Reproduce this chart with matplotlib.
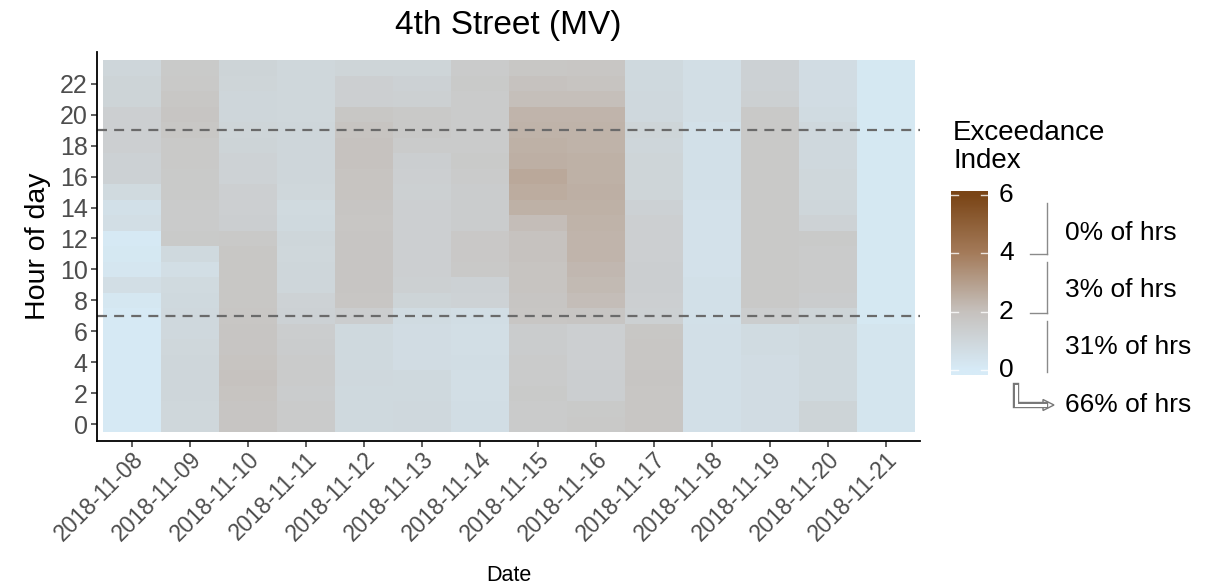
import numpy as np
import matplotlib
matplotlib.use("Agg")
import matplotlib.pyplot as plt
from matplotlib.colors import LinearSegmentedColormap, Normalize
from matplotlib.lines import Line2D
from matplotlib.patches import Polygon

plt.rcParams['font.family'] = ['Liberation Sans', 'DejaVu Sans']

dates = ['2018-11-08', '2018-11-09', '2018-11-10', '2018-11-11', '2018-11-12',
         '2018-11-13', '2018-11-14', '2018-11-15', '2018-11-16', '2018-11-17',
         '2018-11-18', '2018-11-19', '2018-11-20', '2018-11-21']
hours = list(range(24))

# exceedance index, one row per day, hours 0..23
index_by_day = [
    [0.10, 0.10, 0.10, 0.10, 0.10, 0.10, 0.10, 0.10, 0.20, 0.60, 0.25, 0.15,
     0.10, 0.60, 0.50, 0.80, 1.20, 1.20, 1.30, 1.30, 1.30, 1.10, 1.10, 1.00],
    [0.95, 0.95, 1.00, 1.00, 1.00, 0.95, 0.90, 0.90, 0.85, 0.80, 0.60, 0.85,
     1.55, 1.50, 1.50, 1.55, 1.55, 1.60, 1.60, 1.70, 1.80, 1.70, 1.60, 1.55],
    [1.80, 1.80, 1.85, 1.90, 1.85, 1.80, 1.80, 1.75, 1.70, 1.70, 1.70, 1.70,
     1.60, 1.35, 1.30, 1.30, 1.15, 1.15, 1.10, 1.05, 1.00, 1.00, 1.05, 1.10],
    [1.50, 1.50, 1.45, 1.50, 1.50, 1.45, 1.40, 1.20, 1.15, 1.00, 1.00, 0.95,
     1.00, 0.85, 0.80, 0.95, 1.00, 1.00, 1.00, 1.00, 0.95, 0.95, 0.95, 0.95],
    [0.85, 0.85, 0.85, 0.90, 0.85, 0.85, 0.85, 1.40, 1.75, 1.80, 1.80, 1.80,
     1.80, 1.75, 1.80, 1.85, 1.85, 1.90, 1.90, 1.85, 1.70, 1.30, 1.30, 1.05],
    [0.90, 0.90, 0.85, 0.85, 0.70, 0.70, 0.70, 0.75, 1.10, 1.25, 1.30, 1.30,
     1.30, 1.30, 1.30, 1.25, 1.30, 1.35, 1.50, 1.60, 1.60, 1.25, 1.20, 1.05],
    [0.65, 0.65, 0.60, 0.60, 0.65, 0.60, 0.60, 0.65, 1.15, 1.20, 1.60, 1.65,
     1.65, 1.45, 1.45, 1.45, 1.50, 1.55, 1.50, 1.50, 1.50, 1.50, 1.55, 1.50],
    [1.50, 1.50, 1.55, 1.50, 1.50, 1.45, 1.45, 1.75, 1.80, 1.85, 1.85, 1.90,
     1.90, 2.10, 2.45, 2.60, 2.70, 2.50, 2.45, 2.40, 2.35, 2.05, 1.90, 1.70],
    [1.60, 1.55, 1.35, 1.35, 1.30, 1.30, 1.30, 1.80, 2.10, 2.20, 2.25, 2.35,
     2.35, 2.40, 2.45, 2.50, 2.45, 2.45, 2.40, 2.40, 2.35, 2.05, 1.85, 1.75],
    [1.75, 1.75, 1.75, 1.80, 1.75, 1.75, 1.70, 1.25, 1.30, 1.35, 1.35, 1.30,
     1.30, 1.30, 1.20, 1.05, 1.05, 1.05, 1.00, 1.05, 0.90, 0.90, 0.85, 0.85],
    [0.55, 0.55, 0.55, 0.55, 0.55, 0.55, 0.55, 0.50, 0.50, 0.50, 0.45, 0.45,
     0.45, 0.45, 0.45, 0.50, 0.50, 0.50, 0.50, 0.50, 0.60, 0.60, 0.60, 0.60],
    [0.70, 0.70, 0.70, 0.70, 0.70, 0.75, 0.75, 1.40, 1.60, 1.60, 1.60, 1.60,
     1.60, 1.60, 1.60, 1.60, 1.60, 1.60, 1.60, 1.60, 1.60, 1.25, 1.20, 1.20],
    [1.10, 1.10, 0.85, 0.85, 0.85, 0.85, 0.85, 1.10, 1.45, 1.50, 1.50, 1.50,
     1.55, 1.15, 1.00, 0.95, 0.95, 0.90, 0.90, 0.90, 0.75, 0.70, 0.70, 0.70],
    [0.30, 0.30, 0.30, 0.30, 0.30, 0.30, 0.30, 0.15, 0.15, 0.15, 0.15, 0.15,
     0.15, 0.15, 0.15, 0.15, 0.15, 0.15, 0.15, 0.15, 0.15, 0.15, 0.15, 0.15],
]

peak_start, peak_end = 7, 19
band_labels = ['0% of hrs', '3% of hrs', '31% of hrs', '66% of hrs']

cmap = LinearSegmentedColormap.from_list(
    'exceed', [(0.0, '#d7ebf7'), (2 / 6, '#c6c1bd'), (4 / 6, '#a47b5a'), (1.0, '#7a4516')])
norm = Normalize(0, 6)

W, H = 1209, 587
fig = plt.figure(figsize=(W / 100, H / 100), dpi=100)


def px(x, y):
    return (x / W, 1 - y / H)


ax = fig.add_axes([97.3 / W, 1 - 440.7 / H, (920 - 97.3) / W, (440.7 - 51.7) / H])
grid = np.array(index_by_day).T
ax.imshow(grid, origin='lower', aspect='auto', cmap=cmap, norm=norm,
          interpolation='nearest', extent=(-0.5, len(dates) - 0.5, -0.5, 23.5))
ax.set_xlim(-0.593, len(dates) - 0.407)
ax.set_ylim(-1.08, 24.08)

for h in (peak_start, peak_end):
    ax.axhline(h, color='#6a6a6a', lw=1.6, ls=(0, (4.5, 3.2)))

ax.set_xticks(range(len(dates)))
ax.set_xticklabels(dates, rotation=45, ha='right', va='top', rotation_mode='anchor')
ax.set_yticks(hours[::2])
ax.tick_params(axis='both', labelsize=18, colors='#333333', labelcolor='#4d4d4d',
               length=4, width=1.1, pad=3)
ax.tick_params(axis='x', labelsize=16.5, pad=1)
for s in ('top', 'right'):
    ax.spines[s].set_visible(False)
for s in ('left', 'bottom'):
    ax.spines[s].set_linewidth(1.3)
ax.set_ylabel('Hour of day', fontsize=20.5, labelpad=6)
ax.set_xlabel('Date', fontsize=15.5, labelpad=14)
ax.set_title('4th Street (MV)', fontsize=24, pad=13)

# colour bar
cax = fig.add_axes([951 / W, 1 - 375 / H, 37 / W, 184 / H])
lo, hi = -0.17, 6.14
ramp = np.linspace(lo, hi, 300).reshape(-1, 1)
cax.imshow(ramp, origin='lower', aspect='auto', cmap=cmap, norm=norm,
           extent=(0, 1, lo, hi))
cax.set_xlim(0, 1)
cax.set_ylim(lo, hi)
cax.set_xticks([])
cax.set_yticks([])
for s in cax.spines.values():
    s.set_visible(False)
for v in (0, 2, 4, 6):
    cax.plot([0, 0.2], [v, v], color='white', lw=1, alpha=0.8)
    cax.plot([0.8, 1], [v, v], color='white', lw=1, alpha=0.8)
    cax.text(1.3, v, str(v), transform=cax.transData, fontsize=19,
             va='center', ha='left', color='black')

fig.text(*px(953, 147), 'Exceedance\nIndex', fontsize=20, va='center', ha='left',
         linespacing=1.05)

# brackets beside the colour bar
gc = '#8a8a8a'
for (y0, y1), tick in zip([(203, 254), (262, 313), (321, 372)], [True, True, False]):
    fig.add_artist(Line2D(*zip(px(1047, y0), px(1047, y1)), color=gc, lw=1))
    if tick:
        fig.add_artist(Line2D(*zip(px(1030, y1), px(1047, y1)), color=gc, lw=1))

for label, y in zip(band_labels, [233, 290, 347, 405]):
    fig.text(*px(1065, y), label, fontsize=19, va='center', ha='left')

# hollow elbow arrow pointing to the last label
elbow = [px(1016, 386), px(1016, 405), px(1045, 405)]
xs, ys = zip(*elbow)
fig.add_artist(Line2D(xs, ys, color='#777777', lw=4.6, solid_joinstyle='miter'))
fig.add_artist(Line2D(xs, ys, color='white', lw=2.2, solid_joinstyle='miter'))
fig.add_artist(Polygon([px(1043, 399.5), px(1054, 405), px(1043, 410.5)], closed=True,
                       transform=fig.transFigure, fc='white', ec='#777777', lw=1))

fig.savefig('out.png', dpi=100)
